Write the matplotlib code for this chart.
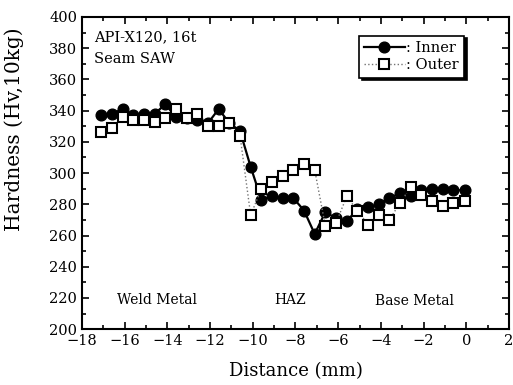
import matplotlib
matplotlib.use('Agg')
from matplotlib import pyplot as plt
from matplotlib.ticker import MultipleLocator

plt.rcParams['font.family'] = ['DejaVu Serif']

# distance from weld centre (mm)
distance = [-17.1, -16.6, -16.1, -15.6, -15.1, -14.6, -14.1, -13.6, -13.1, -12.6,
            -12.1, -11.6, -11.1, -10.6, -10.1, -9.6, -9.1, -8.6, -8.1, -7.6,
            -7.1, -6.6, -6.1, -5.6, -5.1, -4.6, -4.1, -3.6, -3.1, -2.6,
            -2.1, -1.6, -1.1, -0.6, -0.05]
inner = [337, 338, 341, 337, 338, 338, 344, 336, 335, 334,
         332, 341, 332, 327, 304, 283, 285, 284, 284, 276,
         261, 275, 271, 269, 277, 278, 280, 284, 287, 285,
         289, 290, 290, 289, 289]
outer = [326, 329, 336, 334, 334, 333, 335, 341, 335, 338,
         330, 330, 332, 324, 273, 290, 294, 298, 302, 306,
         302, 266, 268, 285, 276, 267, 273, 270, 281, 291,
         286, 282, 279, 281, 282]

fig = plt.figure(figsize=(5.13, 3.85), dpi=100)
ax = fig.add_axes([0.16, 0.145, 0.832, 0.811])

ax.plot(distance, inner, '-', color='black', lw=1.6, marker='o', ms=7.7,
        mfc='black', mec='black', label=': Inner', zorder=3)
ax.plot(distance, outer, ':', color='0.45', lw=1.0, marker='s', ms=6.5,
        mfc='white', mec='black', mew=1.5, label=': Outer', zorder=4)

ax.set_xlim(-18, 2)
ax.set_ylim(200, 400)
ax.xaxis.set_major_locator(MultipleLocator(2))
ax.xaxis.set_minor_locator(MultipleLocator(1))
ax.yaxis.set_major_locator(MultipleLocator(20))
ax.yaxis.set_minor_locator(MultipleLocator(10))
ax.tick_params(which='both', direction='in', top=True, right=True, width=1.2)
ax.tick_params(which='major', length=5, labelsize=10.5)
ax.tick_params(which='minor', length=3)
for s in ax.spines.values():
    s.set_linewidth(1.5)

ax.set_xlabel('Distance (mm)', fontsize=13, labelpad=10)
ax.set_ylabel('Hardness (Hv,10kg)', fontsize=14.5)
ax.yaxis.set_label_coords(-0.135, 0.64)

ax.text(-17.45, 387, 'API-X120, 16t', fontsize=10.5, va='center')
ax.text(-17.45, 373, 'Seam SAW', fontsize=10.5, va='center')
ax.text(-14.5, 219, 'Weld Metal', fontsize=10, ha='center', va='center')
ax.text(-8.25, 219, 'HAZ', fontsize=10, ha='center', va='center')
ax.text(-2.4, 218, 'Base Metal', fontsize=10, ha='center', va='center')

leg = ax.legend(loc='upper right', bbox_to_anchor=(0.895, 0.94), fancybox=False,
                shadow={'color': 'black', 'alpha': 1}, edgecolor='black',
                fontsize=10.5, handlelength=2.8, handletextpad=0.1,
                borderpad=0.35, labelspacing=0.25, borderaxespad=0, framealpha=1)
leg.get_frame().set_linewidth(1.2)

fig.savefig('out.png', dpi=100)
